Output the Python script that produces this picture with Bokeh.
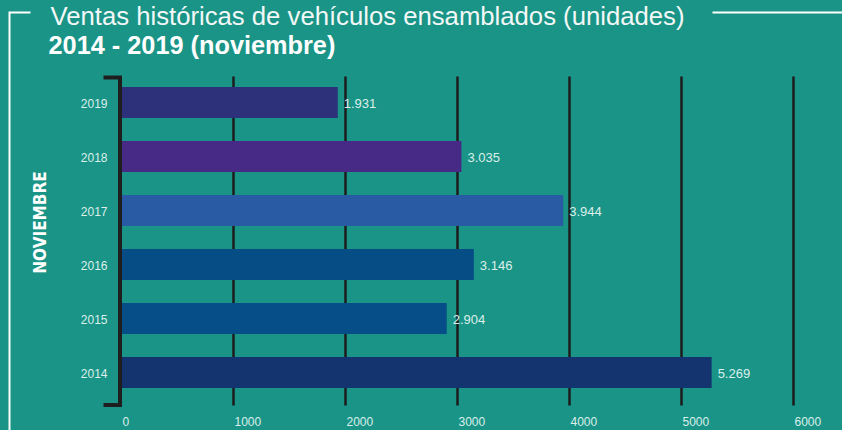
from math import pi
from bokeh.plotting import figure
from bokeh.models import Range1d, ColumnDataSource
from bokeh.core.properties import value
from bokeh.embed import file_html
from bokeh.resources import INLINE

# ---- data ----
years = [2014, 2015, 2016, 2017, 2018, 2019]
units = [5269, 2904, 3146, 3944, 3035, 1931]
bar_colors = ["#13346f", "#054e87", "#064d86", "#285ba3", "#462a85", "#2d3179"]
x_ticks = [0, 1000, 2000, 3000, 4000, 5000, 6000]
title = "Ventas históricas de vehículos ensamblados (unidades)"
subtitle = "2014 - 2019 (noviembre)"
side_label = "NOVIEMBRE"

# ---- layout ----
W, H = 842, 430
BG = "#1a9486"
PX_PER_UNIT = 0.112
X0 = -121 / PX_PER_UNIT
X1 = X0 + W / PX_PER_UNIT
PX_PER_YEAR = 54.0
Y0 = years[0] - (H - 372) / PX_PER_YEAR
Y1 = Y0 + H / PX_PER_YEAR


def dx(px):
    return X0 + px / PX_PER_UNIT


def dy(py):
    return Y0 + (H - py) / PX_PER_YEAR


p = figure(width=W, height=H, output_backend="svg", toolbar_location=None,
           x_range=Range1d(X0, X1), y_range=Range1d(Y0, Y1),
           x_axis_location=None, y_axis_location=None,
           min_border=0, min_border_left=0, min_border_right=0,
           min_border_top=0, min_border_bottom=0,
           background_fill_color=BG, border_fill_color=BG,
           outline_line_color=None)
p.xgrid.visible = False
p.ygrid.visible = False

FONT = value("Liberation Sans")
LIGHT = "#dcefeb"

# grid lines
gx = x_ticks[1:]
p.segment(x0=gx, x1=gx, y0=[dy(405)] * len(gx), y1=[dy(76)] * len(gx),
          line_color="#1c1c1c", line_width=2.5)

# bars
src = ColumnDataSource(dict(
    year=years, units=units, color=bar_colors,
    label=[f"{v:,}".replace(",", ".") for v in units],
    ylab=[str(y) for y in years],
))
p.hbar(y="year", left=0, right="units", height=31 / PX_PER_YEAR,
       fill_color="color", line_color=None, source=src)

# value labels
p.text(x="units", y="year", text="label", source=src, x_offset=6, y_offset=1,
       text_font=FONT, text_font_size=value("13px"), text_color=LIGHT,
       text_align="left", text_baseline="middle")

# category labels
p.text(x=dx(107), y="year", text="ylab", source=src, y_offset=1,
       text_font=FONT, text_font_size=value("12px"), text_color=LIGHT,
       text_align="right", text_baseline="middle")

# bracket axis
p.line(x=[dx(103), dx(119.5), dx(119.5), dx(103)],
       y=[dy(77), dy(77), dy(404.5), dy(404.5)],
       line_color="#1e1e1e", line_width=4, line_join="miter")

# x tick labels
p.text(x=x_ticks, y=[dy(421)] * len(x_ticks), text=[str(t) for t in x_ticks],
       x_offset=1, text_font=FONT, text_font_size=value("12px"), text_color=LIGHT,
       text_align="left", text_baseline="middle")

# white frame lines
p.line(x=[dx(30), dx(9), dx(9)], y=[dy(12), dy(12), dy(440)],
       line_color="white", line_width=2, line_join="miter")
p.line(x=[dx(712), dx(850)], y=[dy(12), dy(12)], line_color="white", line_width=2)

# titles
p.text(x=[dx(50)], y=[dy(15.5)], text=[title], text_font=FONT,
       text_font_size=value("25.7px"), text_color="#f2f8f7",
       text_align="left", text_baseline="middle")
p.text(x=[dx(48)], y=[dy(44)], text=[subtitle], text_font=FONT,
       text_font_size=value("25.3px"), text_font_style="bold", text_color="white",
       text_align="left", text_baseline="middle")

# side label
p.text(x=[dx(39)], y=[dy(222)], text=[side_label],
       text_font=value("DejaVu Sans Condensed"), text_font_size=value("17px"),
       text_font_style="bold", text_color="white", angle=pi / 2,
       text_align="center", text_baseline="middle")

html = file_html(p, INLINE)
html = html.replace("<head>", "<head><style>body{background:%s;}</style>" % BG, 1)
open("out.html", "w").write(html)
